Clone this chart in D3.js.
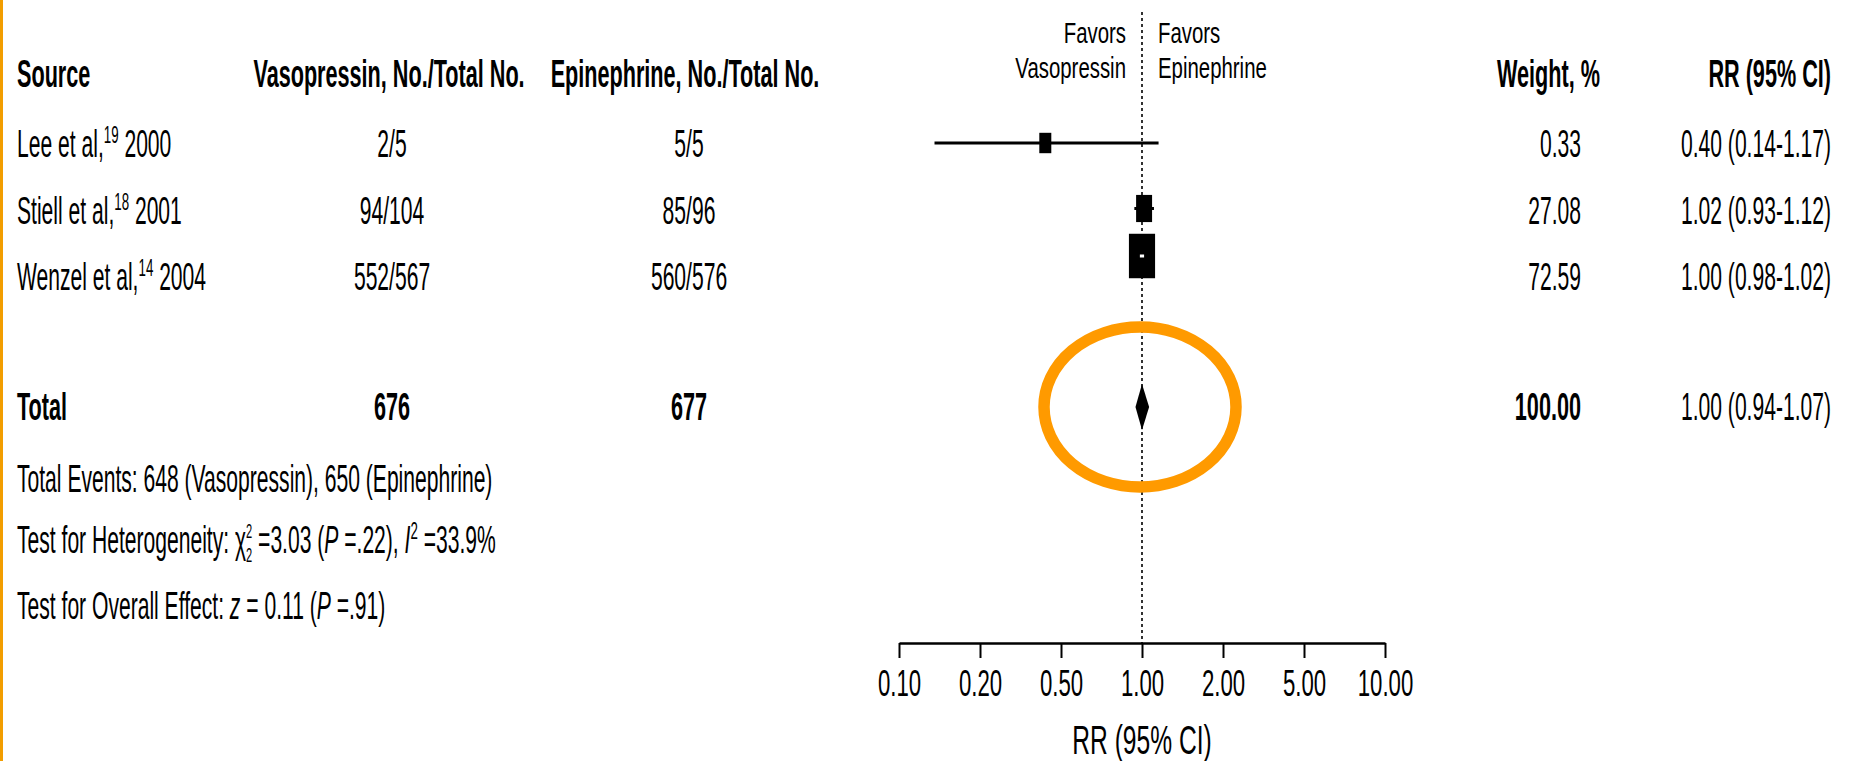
<!DOCTYPE html>
<html>
<head>
<meta charset="utf-8">
<script src="https://cdn.jsdelivr.net/npm/d3@7"></script>
<style>
  body { margin: 0; background: #fff; }
  text { font-family: "Liberation Sans", Arial, sans-serif; fill: #000; }
</style>
</head>
<body>
<script>
// ---- data
const authors = ['Lee et al,', 'Stiell et al,', 'Wenzel et al,']
const refs = ['19', '18', '14']
const years = ['2000', '2001', '2004']
const vasoEvents = [2, 94, 552]
const vasoTotal = [5, 104, 567]
const epiEvents = [5, 85, 560]
const epiTotal = [5, 96, 576]
const rr = [0.40, 1.02, 1.00]
const ciLow = [0.14, 0.93, 0.98]
const ciHigh = [1.17, 1.12, 1.02]
const weights = [0.33, 27.08, 72.59]
const pooled = { rr: 1.00, lo: 0.94, hi: 1.07, weight: 100 }
const tickLabels = ['0.10', '0.20', '0.50', '1.00', '2.00', '5.00', '10.00']
const hetero = { chi2: '3.03', df: '2', p: '.22', i2: '33.9%' }
const overall = { z: '0.11', p: '.91' }

const W = 1854, H = 761
const SX = 0.555   // the figure's type is squeezed sideways
const FS = 38
const f2 = d3.format('.2f')

let svg = d3.select('body').append('svg')
    .attr('width', W)
    .attr('height', H)

svg.append('rect').attr('width', W).attr('height', H).attr('fill', '#fff')
// thin orange edge on the left
svg.append('rect').attr('x', 0).attr('y', 0).attr('width', 3).attr('height', H).attr('fill', '#f29d00')

function label(x, y, str, o = {}) {
    let t = svg.append('text')
        .attr('transform', `translate(${x},${y}) scale(${o.sx || SX},1)`)
        .attr('font-size', o.size || FS)
        .attr('font-weight', o.bold ? 'bold' : null)
        .attr('text-anchor', o.anchor || 'start')
    if (str !== null) t.text(str)
    return t
}

// ---- scales
let x = d3.scaleLog().domain([0.1, 10]).range([899, 1385])
// the printed ticks sit at even steps along the axis
let xTick = d3.scalePoint().domain(tickLabels).range([899, 1385])
let yRow = d3.scaleLinear().domain([0, 2]).range([157, 290])
let boxW = d3.scaleSqrt().domain([0, 100]).range([0, 30.7])
const markerShift = [-1, -2, -21]
const totalY = 420

// ---- headers
const hb = { bold: true, size: 39 }
label(17, 87, 'Source', hb)
label(389, 87, 'Vasopressin, No./Total No.', { ...hb, anchor: 'middle' })
label(685, 87, 'Epinephrine, No./Total No.', { ...hb, anchor: 'middle' })
label(1600, 87, 'Weight, %', { ...hb, anchor: 'end' })
label(1831, 87, 'RR (95% CI)', { ...hb, anchor: 'end' })

const fav = { size: 30, sx: 0.68 }
label(1126, 43, 'Favors', { ...fav, anchor: 'end' })
label(1126, 78, 'Vasopressin', { ...fav, anchor: 'end' })
label(1158, 43, 'Favors', fav)
label(1158, 78, 'Epinephrine', fav)

// ---- line of no effect
svg.append('line')
    .attr('x1', x(1)).attr('x2', x(1))
    .attr('y1', 12).attr('y2', 643)
    .attr('stroke', '#000')
    .attr('stroke-width', 1.6)
    .attr('stroke-dasharray', '3,3')

// ---- study rows
authors.forEach((a, i) => {
    let y = yRow(i)
    let t = label(17, y, null)
    t.append('tspan').text(a)
    t.append('tspan').attr('font-size', 24).attr('dy', -14).text(refs[i])
    t.append('tspan').attr('dy', 14).text(' ' + years[i])

    label(392, y, vasoEvents[i] + '/' + vasoTotal[i], { anchor: 'middle' })
    label(689, y, epiEvents[i] + '/' + epiTotal[i], { anchor: 'middle' })
    label(1581, y, f2(weights[i]), { anchor: 'end' })
    label(1831, y, `${f2(rr[i])} (${f2(ciLow[i])}-${f2(ciHigh[i])})`, { anchor: 'end' })

    let cy = y - 13 + markerShift[i]
    let w = Math.max(12, boxW(weights[i])), h = w * 1.7
    svg.append('line')
        .attr('x1', x(ciLow[i])).attr('x2', x(ciHigh[i]))
        .attr('y1', cy).attr('y2', cy)
        .attr('stroke', '#000').attr('stroke-width', 3)
    svg.append('rect')
        .attr('x', x(rr[i]) - w / 2).attr('y', cy - h / 2)
        .attr('width', w).attr('height', h)
        .attr('fill', '#000')
    // interval hidden inside the box is shown in white
    if (x(ciHigh[i]) - x(ciLow[i]) < w) {
        svg.append('line')
            .attr('x1', x(ciLow[i])).attr('x2', x(ciHigh[i]))
            .attr('y1', cy).attr('y2', cy)
            .attr('stroke', '#fff').attr('stroke-width', 3)
    }
})

// ---- total row
label(17, totalY, 'Total', hb)
label(392, totalY, d3.sum(vasoTotal), { ...hb, anchor: 'middle' })
label(689, totalY, d3.sum(epiTotal), { ...hb, anchor: 'middle' })
label(1581, totalY, f2(pooled.weight), { ...hb, anchor: 'end' })
label(1831, totalY, `${f2(pooled.rr)} (${f2(pooled.lo)}-${f2(pooled.hi)})`, { anchor: 'end' })

let dy = totalY - 13
svg.append('path')
    .attr('d', `M${x(pooled.lo)},${dy} L${x(pooled.rr)},${dy - 23} L${x(pooled.hi)},${dy} L${x(pooled.rr)},${dy + 23} Z`)
    .attr('fill', '#000')

// orange highlight ring round the pooled estimate
svg.append('ellipse')
    .attr('cx', x(pooled.rr) - 2).attr('cy', dy)
    .attr('rx', 96).attr('ry', 80)
    .attr('fill', 'none')
    .attr('stroke', '#ff9a00')
    .attr('stroke-width', 11.5)

// ---- footnotes
label(17, 492, `Total Events: ${d3.sum(vasoEvents)} (Vasopressin), ${d3.sum(epiEvents)} (Epinephrine)`)

let het = label(17, 553, null)
het.append('tspan').text('Test for Heterogeneity: χ')
het.append('tspan').attr('font-size', 20).attr('dy', -15).text('2')
het.append('tspan').attr('font-size', 20).attr('dx', -11.1).attr('dy', 24).text(hetero.df)
het.append('tspan').attr('dy', -9).text(' =' + hetero.chi2 + ' (')
het.append('tspan').attr('font-style', 'italic').text('P')
het.append('tspan').text(' =' + hetero.p + '), ')
het.append('tspan').attr('font-style', 'italic').text('I')
het.append('tspan').attr('font-size', 24).attr('dy', -14).text('2')
het.append('tspan').attr('dy', 14).text(' =' + hetero.i2)

let ov = label(17, 619, null)
ov.append('tspan').text('Test for Overall Effect: ')
ov.append('tspan').attr('font-style', 'italic').text('z')
ov.append('tspan').text(' = ' + overall.z + ' (')
ov.append('tspan').attr('font-style', 'italic').text('P')
ov.append('tspan').text(' =' + overall.p + ')')

// ---- axis
let axis = svg.append('g')
    .attr('transform', 'translate(0,643)')
    .call(d3.axisBottom(xTick).tickSize(15).tickSizeOuter(0).tickPadding(12))
axis.select('.domain').attr('stroke-width', 2.5)
axis.selectAll('.tick line').attr('stroke-width', 2)
axis.selectAll('.tick text')
    .attr('font-size', 37)
    .attr('font-family', '"Liberation Sans", Arial, sans-serif')
    .attr('transform', 'scale(0.6,1)')

label(x(1), 754, 'RR (95% CI)', { size: 41, sx: 0.6, anchor: 'middle' })
</script>
</body>
</html>
